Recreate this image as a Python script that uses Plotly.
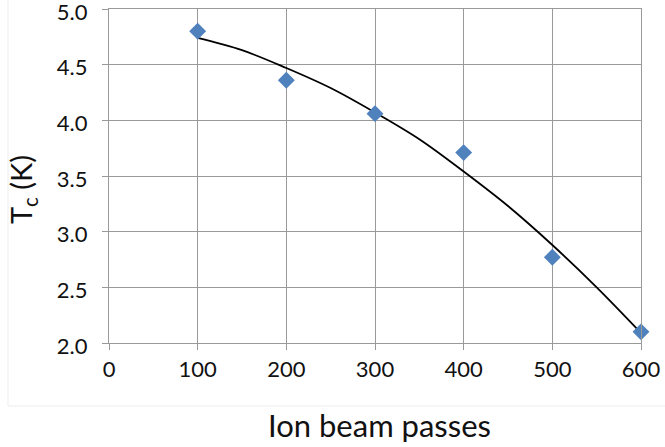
import plotly.graph_objects as go

passes = [100, 200, 300, 400, 500, 600]
tc_values = [4.80, 4.36, 4.06, 3.71, 2.77, 2.10]

# trendline values
trend_x = [100, 150, 200, 250, 300, 350, 400, 450, 500, 550, 600]
trend_y = [4.74, 4.63, 4.47, 4.29, 4.07, 3.83, 3.54, 3.23, 2.88, 2.50, 2.09]

x_ticks = [0, 100, 200, 300, 400, 500, 600]
y_ticks = [2.0, 2.5, 3.0, 3.5, 4.0, 4.5, 5.0]

FONT = "Lato"
GRID = "#999999"
FAINT = "#ededed"

fig = go.Figure()
fig.add_trace(go.Scatter(x=trend_x, y=trend_y, mode="lines",
                         line=dict(color="black", width=1.8, shape="spline"),
                         hoverinfo="skip", showlegend=False, cliponaxis=False))
fig.add_trace(go.Scatter(x=passes, y=tc_values, mode="markers",
                         marker=dict(symbol="diamond", size=13, color="#4F81BD"),
                         showlegend=False, cliponaxis=False))

fig.update_layout(
    width=665, height=447,
    margin=dict(l=109, r=24, t=9, b=104),
    paper_bgcolor="white", plot_bgcolor="white",
    font=dict(family=FONT, size=22, color="#111111"),
    xaxis=dict(range=[0, 600], tickvals=x_ticks, ticktext=[str(v) for v in x_ticks],
               showgrid=True, gridcolor=GRID, gridwidth=1.3,
               showline=True, linecolor=GRID, linewidth=1.3, mirror=True,
               ticks="outside", ticklen=6, tickcolor=GRID, tickwidth=1.3,
               zeroline=False, automargin=False, ticklabeloverflow="allow"),
    yaxis=dict(range=[2.0, 5.0], tickvals=y_ticks, ticktext=[f"{v:.1f}" for v in y_ticks],
               showgrid=True, gridcolor=GRID, gridwidth=1.3,
               showline=True, linecolor=GRID, linewidth=1.3, mirror=True,
               ticks="outside", ticklen=6, tickcolor=GRID, tickwidth=1.3,
               zeroline=False, automargin=False, ticklabeloverflow="allow",
               ticklabelstandoff=10, ticklabelshift=3),
    annotations=[
        dict(text="T<sub>c</sub> (K)", textangle=-90, xref="paper", yref="paper",
             x=-0.1635, y=0.458, xanchor="center", yanchor="middle", showarrow=False,
             font=dict(family=FONT, size=29, color="#111111")),
        dict(text="Ion beam passes", xref="paper", yref="paper",
             x=0.509, y=-0.2455, xanchor="center", yanchor="middle", showarrow=False,
             font=dict(family=FONT, size=31, color="#111111")),
    ],
    shapes=[
        dict(type="line", xref="paper", yref="paper", x0=-0.18985, x1=-0.18985,
             y0=-0.1886, y1=1.03, line=dict(color=FAINT, width=1)),
        dict(type="line", xref="paper", yref="paper", x0=-0.18985, x1=1.046,
             y0=-0.1886, y1=-0.1886, line=dict(color=FAINT, width=1)),
    ],
)

fig.write_html("out.html", config={"displayModeBar": False},
               post_script="document.body.style.margin='0';document.body.style.padding='0';")
